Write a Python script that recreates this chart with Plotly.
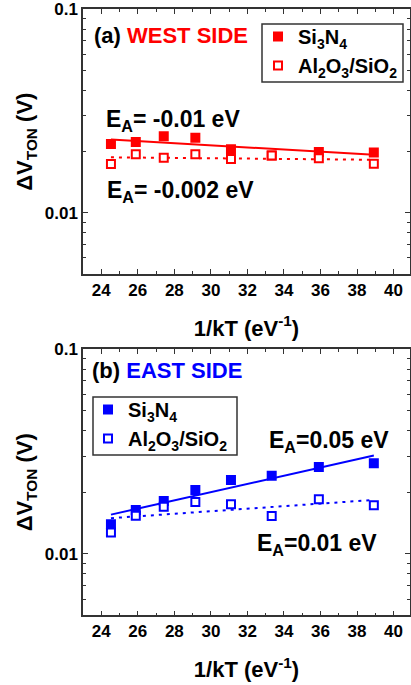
import numpy as np
import plotly.graph_objects as go
from plotly.subplots import make_subplots

# 1/kT (eV^-1) for the measurement temperatures
inv_kT = [24.53, 25.89, 27.42, 29.15, 31.10, 33.33, 35.91, 38.92]

# Threshold-voltage shift dV_TON (V), west side
west_si3n4 = [0.0218, 0.0223, 0.0238, 0.0234, 0.0205, 0.0191, 0.0199, 0.0198]
west_al2o3 = [0.01735, 0.01937, 0.01864, 0.01941, 0.01837, 0.0191, 0.01851, 0.0174]

# Threshold-voltage shift dV_TON (V), east side
east_si3n4 = [0.01393, 0.01637, 0.01811, 0.0205, 0.02294, 0.0241, 0.02655, 0.0277]
east_al2o3 = [0.01272, 0.01535, 0.01698, 0.0179, 0.01745, 0.0153, 0.01846, 0.01725]

y_tick_vals = [0.01, 0.1]
y_tick_text = ["0.01", "0.1"]
y_minor_vals = [0.006, 0.007, 0.008, 0.009, 0.02, 0.03, 0.04, 0.05, 0.06, 0.07, 0.08, 0.09]

series_names = ["Si<sub>3</sub>N<sub>4</sub>", "Al<sub>2</sub>O<sub>3</sub>/SiO<sub>2</sub>"]
ea_labels_west = ["E<sub>A</sub>= -0.01 eV", "E<sub>A</sub>= -0.002 eV"]
ea_labels_east = ["E<sub>A</sub>=0.05 eV", "E<sub>A</sub>=0.01 eV"]

RED = "#ff0000"
BLUE = "#0000ff"
FONT = "Liberation Sans, Arial, Helvetica, sans-serif"
W, H = 411, 685


def px(x):
    return x / W


def py(y):
    return 1 - y / H


def arrhenius_fit(x, y):
    """Least-squares fit of ln(y) against 1/kT; returns the fitted line."""
    x = np.asarray(x)
    slope, icpt = np.polyfit(x, np.log(np.asarray(y)), 1)
    xs = np.array([x.min(), x.max()])
    return xs, np.exp(icpt + slope * xs)


fig = make_subplots(rows=2, cols=1)

panels = [
    (1, west_si3n4, west_al2o3, RED, "legend"),
    (2, east_si3n4, east_al2o3, BLUE, "legend2"),
]
for row, filled, hollow, color, leg in panels:
    fx, fy = arrhenius_fit(inv_kT, filled)
    hx, hy = arrhenius_fit(inv_kT, hollow)
    fig.add_trace(go.Scatter(x=fx, y=fy, mode="lines", showlegend=False,
                             line=dict(color=color, width=2)), row=row, col=1)
    fig.add_trace(go.Scatter(x=hx, y=hy, mode="lines", showlegend=False,
                             line=dict(color=color, width=2, dash="3px,5px")), row=row, col=1)
    fig.add_trace(go.Scatter(x=inv_kT, y=filled, mode="markers", name=series_names[0],
                             legend=leg,
                             marker=dict(symbol="square", size=10, color=color,
                                         line=dict(width=0))), row=row, col=1)
    fig.add_trace(go.Scatter(x=inv_kT, y=hollow, mode="markers", name=series_names[1],
                             legend=leg,
                             marker=dict(symbol="square", size=8, color="white",
                                         line=dict(width=2, color=color))), row=row, col=1)

axis_color = "#333333"
tick_font = dict(family=FONT, size=17, color="black", weight="bold")
title_font = dict(family=FONT, size=22, color="black", weight="bold")

xdoms = [px(83), px(410)]
ydoms = {1: [py(274), py(9.3)], 2: [py(615.3), py(349.3)]}

for row in (1, 2):
    xa = "xaxis" if row == 1 else "xaxis2"
    ya = "yaxis" if row == 1 else "yaxis2"
    fig.layout[xa].update(
        domain=xdoms, range=[23.0, 40.9], dtick=2, tick0=24, automargin=False,
        ticks="inside", ticklen=5, tickwidth=1.2, tickcolor=axis_color,
        minor=dict(dtick=1, tick0=24, ticks="inside", ticklen=3, tickcolor=axis_color),
        showline=True, linecolor=axis_color, linewidth=1.5, mirror="allticks",
        showgrid=False, zeroline=False, tickfont=tick_font,
        title=dict(text="1/kT (eV<sup>-1</sup>)", font=title_font, standoff=21),
    )
    fig.layout[ya].update(
        domain=ydoms[row], type="log", range=[np.log10(0.005), -1], automargin=False,
        tickmode="array", tickvals=y_tick_vals, ticktext=y_tick_text,
        ticks="inside", ticklen=5, tickwidth=1.2, tickcolor=axis_color,
        minor=dict(tickmode="array", tickvals=y_minor_vals, ticks="inside",
                   ticklen=3, tickcolor=axis_color),
        showline=True, linecolor=axis_color, linewidth=1.5, mirror="allticks",
        showgrid=False, zeroline=False, tickfont=tick_font,
        title=dict(text="ΔV<sub>TON</sub> (V)", font=title_font, standoff=6),
    )

# Legends sit on top of framed boxes drawn as shapes
legend_style = dict(
    xanchor="left", yanchor="top", bgcolor="rgba(0,0,0,0)", borderwidth=0,
    font=dict(family=FONT, size=20, color="black", weight="bold"),
    tracegroupgap=0,
)
fig.update_layout(
    legend=dict(x=px(258), y=py(17), **legend_style),
    legend2=dict(x=px(88), y=py(390), **legend_style),
)
for x0, y0, x1, y1 in [(262, 24, 403, 82), (93, 397, 237, 455)]:
    fig.add_shape(type="rect", xref="paper", yref="paper",
                  x0=px(x0), x1=px(x1), y0=py(y1), y1=py(y0),
                  line=dict(color=axis_color, width=1.5), fillcolor="white", layer="below")

ann_font = dict(family=FONT, size=23, color="black", weight="bold")
panel_font = dict(family=FONT, size=22, color="black", weight="bold")
annotations = [
    dict(x=px(93), y=py(35), text="(a) <span style='color:#ff0000'>WEST SIDE</span>",
         font=panel_font),
    dict(x=px(105), y=py(120), text=ea_labels_west[0], font=ann_font),
    dict(x=px(106), y=py(191), text=ea_labels_west[1], font=ann_font),
    dict(x=px(91), y=py(370), text="(b) <span style='color:#0000ff'>EAST SIDE</span>",
         font=panel_font),
    dict(x=px(268), y=py(441), text=ea_labels_east[0], font=ann_font),
    dict(x=px(256), y=py(544), text=ea_labels_east[1], font=ann_font),
]
for a in annotations:
    fig.add_annotation(xref="paper", yref="paper", xanchor="left", yanchor="middle",
                       showarrow=False, borderpad=0, **a)

fig.update_layout(
    width=W, height=H, margin=dict(l=0, r=0, t=0, b=0),
    paper_bgcolor="white", plot_bgcolor="white",
    font=dict(family=FONT, color="black"),
)

fig.write_html("out.html")
